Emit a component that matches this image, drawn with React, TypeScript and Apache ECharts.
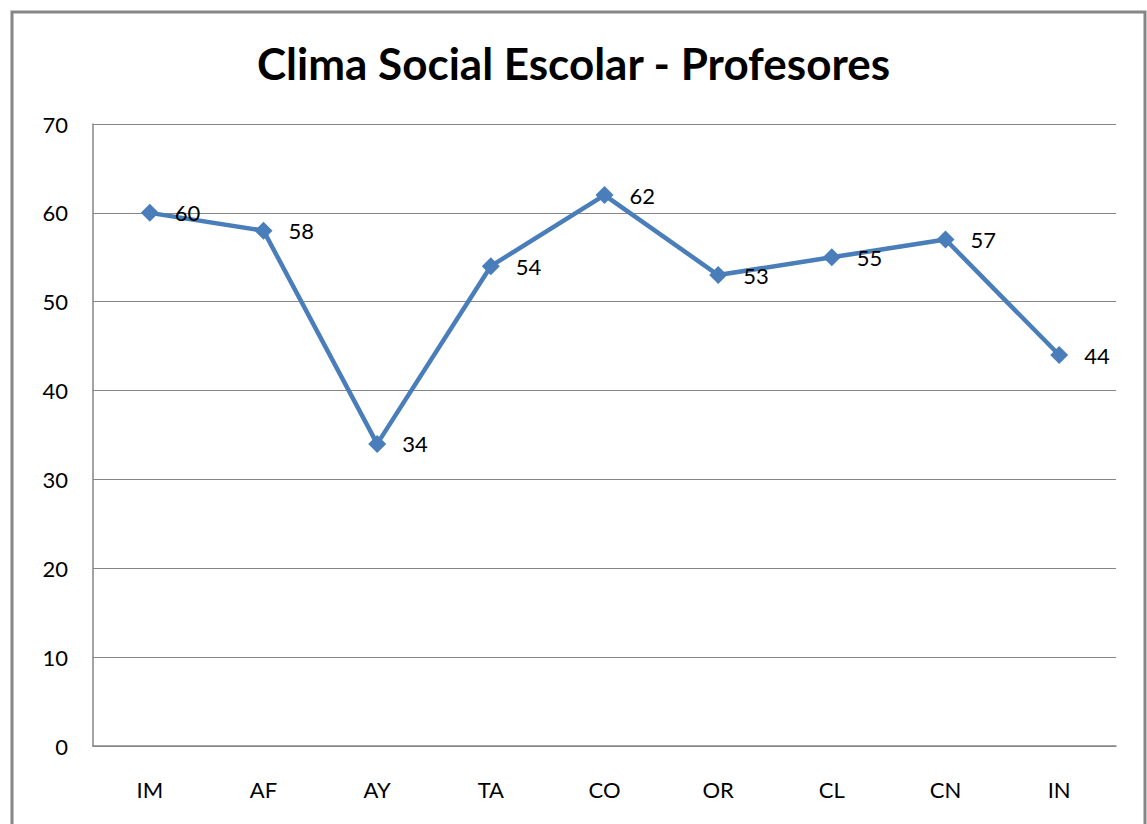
import React, { useEffect, useRef } from "react";
import * as echarts from "echarts";

const categories = ["IM", "AF", "AY", "TA", "CO", "OR", "CL", "CN", "IN"];
const values = [60, 58, 34, 54, 62, 53, 55, 57, 44];
const titleText = "Clima Social Escolar - Profesores";

export default function App() {
  const ref = useRef<HTMLDivElement>(null);
  useEffect(() => {
    document.body.style.margin = "0";
    const chart = echarts.init(ref.current!, null, { renderer: "svg" });
    const font = "Lato, 'Open Sans', sans-serif";
    chart.setOption({
      animation: false,
      backgroundColor: "#ffffff",
      title: {
        text: titleText,
        left: "center",
        top: 36,
        textStyle: { fontFamily: font, fontSize: 44, fontWeight: "bold", color: "#000" },
      },
      graphic: [
        {
          type: "rect",
          shape: { x: 12, y: 12, width: 1133, height: 830 },
          style: { fill: "none", stroke: "#868686", lineWidth: 3 },
          silent: true,
        },
      ],
      grid: { left: 93, top: 124, right: 31, bottom: 78, containLabel: false },
      xAxis: {
        type: "category",
        data: categories,
        boundaryGap: true,
        axisLine: { show: true, lineStyle: { color: "#868686", width: 1.5 } },
        axisTick: { show: false },
        axisLabel: { fontFamily: font, fontSize: 22, color: "#000", margin: 32 },
      },
      yAxis: {
        type: "value",
        min: 0,
        max: 70,
        interval: 10,
        axisLine: { show: true, lineStyle: { color: "#868686", width: 1.5 } },
        axisTick: { show: false },
        splitLine: { show: true, lineStyle: { color: "#868686", width: 1.2 } },
        axisLabel: { fontFamily: font, fontSize: 22, color: "#000", margin: 25 },
      },
      series: [
        {
          type: "line",
          data: values,
          symbol: "diamond",
          symbolSize: 18,
          lineStyle: { color: "#4a7ebb", width: 4.5 },
          itemStyle: { color: "#4a7ebb" },
          label: {
            show: true,
            position: "right",
            distance: 16,
            fontFamily: font,
            fontSize: 22,
            color: "#000",
          },
        },
      ],
    });
    return () => chart.dispose();
  }, []);
  return <div ref={ref} style={{ width: 1147, height: 824 }} />;
}
